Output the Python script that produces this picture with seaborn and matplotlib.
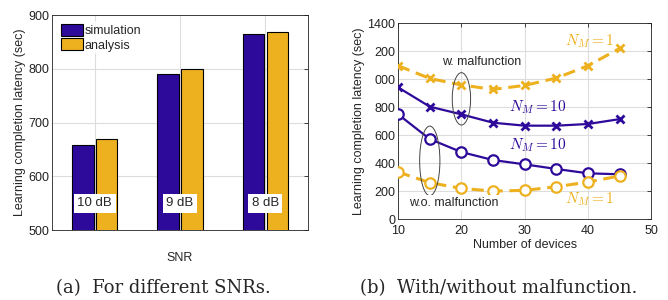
import numpy as np
import pandas as pd
import matplotlib
matplotlib.use('Agg')
import matplotlib.pyplot as plt
from matplotlib.patches import Ellipse
import seaborn as sns

# ---- data ----
snr_labels = ['10 dB', '9 dB', '8 dB']
sim_latency = [658, 791, 865]
ana_latency = [669, 800, 869]

devices = [10, 15, 20, 25, 30, 35, 40, 45]
w_nm1 = [1097, 1006, 959, 928, 956, 1009, 1097, 1221]
w_nm10 = [942, 804, 749, 689, 668, 668, 680, 715]
wo_nm10 = [749, 572, 479, 422, 391, 358, 327, 320]
wo_nm1 = [336, 260, 219, 200, 205, 231, 265, 308]

right_yticks = [0, 200, 400, 600, 800, 1000, 1200, 1400]
right_yticklabels = ['0', '200', '400', '600', '800', '000', '200', '1400']

purple = '#2E0A9B'
orange = '#EDB120'

sns.set_theme(style='white')
plt.rcParams['font.family'] = ['Liberation Sans', 'DejaVu Sans']
plt.rcParams['mathtext.fontset'] = 'cm'
plt.rcParams['xtick.direction'] = 'in'
plt.rcParams['ytick.direction'] = 'in'

fig = plt.figure(figsize=(6.68, 3.0), dpi=100)
ax1 = fig.add_axes([0.078, 0.233, 0.383, 0.717])
ax2 = fig.add_axes([0.596, 0.27, 0.379, 0.652])

# ---- (a) bars ----
df = pd.DataFrame({
    'snr': snr_labels * 2,
    'latency': sim_latency + ana_latency,
    'kind': ['simulation'] * 3 + ['analysis'] * 3,
})
sns.barplot(data=df, x='snr', y='latency', hue='kind', palette=[purple, orange],
            saturation=1, width=0.56, gap=0.1, edgecolor='black', linewidth=0.8,
            ax=ax1, zorder=3)
ax1.set_ylim(500, 900)
ax1.set_xlim(-0.5, 2.5)
ax1.set_yticks([500, 600, 700, 800, 900])
ax1.set_xticks([0, 1, 2])
ax1.set_xticklabels([])
ax1.set_xlabel('SNR', fontsize=9, labelpad=14)
ax1.set_ylabel('Learning completion latency (sec)', fontsize=9, labelpad=2)
for i, lab in enumerate(snr_labels):
    ax1.text(i, 550, lab, ha='center', va='center', fontsize=9.5, zorder=5,
             bbox=dict(facecolor='white', edgecolor='none', pad=2.5))
leg = ax1.legend(loc='upper left', fontsize=9, frameon=True, fancybox=False,
                 handlelength=1.8, handleheight=1.1, handletextpad=0.1,
                 labelspacing=0.1, borderaxespad=0.5, borderpad=0.2)
leg.get_frame().set_edgecolor('none')
leg.set_zorder(6)

# ---- (b) lines ----
dash = (0, (4, 2.2))
sns.lineplot(x=devices, y=w_nm1, color=orange, marker='x', markersize=5.5,
             markeredgewidth=2, markeredgecolor=orange,
             linewidth=2.2, linestyle=dash, ax=ax2, zorder=3)
sns.lineplot(x=devices, y=w_nm10, color=purple, marker='x', markersize=5.5,
             markeredgewidth=2, markeredgecolor=purple,
             linewidth=1.6, ax=ax2, zorder=3)
sns.lineplot(x=devices, y=wo_nm10, color=purple, marker='o', markersize=7.5,
             markeredgewidth=1.6, markerfacecolor='white', markeredgecolor=purple,
             linewidth=1.6, ax=ax2, zorder=3)
sns.lineplot(x=devices, y=wo_nm1, color=orange, marker='o', markersize=7.5,
             markeredgewidth=1.6, markerfacecolor='white', markeredgecolor=orange,
             linewidth=2.2, linestyle=dash, ax=ax2, zorder=3)
ax2.set_xlim(10, 50)
ax2.set_ylim(0, 1400)
ax2.set_xticks([10, 20, 30, 40, 50])
ax2.set_yticks(right_yticks)
ax2.set_yticklabels(right_yticklabels)
ax2.set_xlabel('Number of devices', fontsize=9, labelpad=2)
ax2.set_ylabel('Learning completion latency (sec)', fontsize=9, labelpad=2)

ax2.add_patch(Ellipse((20, 860), 2.9, 375, fill=False, edgecolor='#444444', lw=0.7, zorder=4))
ax2.add_patch(Ellipse((15, 416), 3.2, 498, fill=False, edgecolor='#444444', lw=0.7, zorder=4))
ax2.text(23.2, 1126, 'w. malfunction', ha='center', va='center', fontsize=9, zorder=5,
         bbox=dict(facecolor='white', edgecolor='none', pad=1))
ax2.text(18.8, 117, 'w.o. malfunction', ha='center', va='center', fontsize=9, zorder=5,
         bbox=dict(facecolor='white', edgecolor='none', pad=1))
ax2.text(32, 799, r'$N_M = 10$', color=purple, ha='center', va='center', fontsize=11, zorder=5)
ax2.text(32, 525, r'$N_M = 10$', color=purple, ha='center', va='center', fontsize=11, zorder=5)
ax2.text(40.2, 1276, r'$N_M = 1$', color=orange, ha='center', va='center', fontsize=11, zorder=5)
ax2.text(40.2, 143, r'$N_M = 1$', color=orange, ha='center', va='center', fontsize=11, zorder=5)

for ax in (ax1, ax2):
    ax.grid(True, color='#dddddd', linewidth=0.8, zorder=0)
    ax.set_axisbelow(True)
    ax.tick_params(labelsize=9, length=3, width=0.6, colors='#222222', top=True, right=True,
                   pad=2)
    for s in ax.spines.values():
        s.set_color('#222222')
        s.set_linewidth(0.6)
ax1.tick_params(axis='x', length=0)
ax2.tick_params(axis='x', pad=4)

fig.text(0.245, 0.04, '(a)  For different SNRs.', ha='center', va='center',
         fontsize=13, family='DejaVu Serif')
fig.text(0.746, 0.04, '(b)  With/without malfunction.', ha='center', va='center',
         fontsize=13, family='DejaVu Serif')

fig.savefig('out.png', dpi=100)
